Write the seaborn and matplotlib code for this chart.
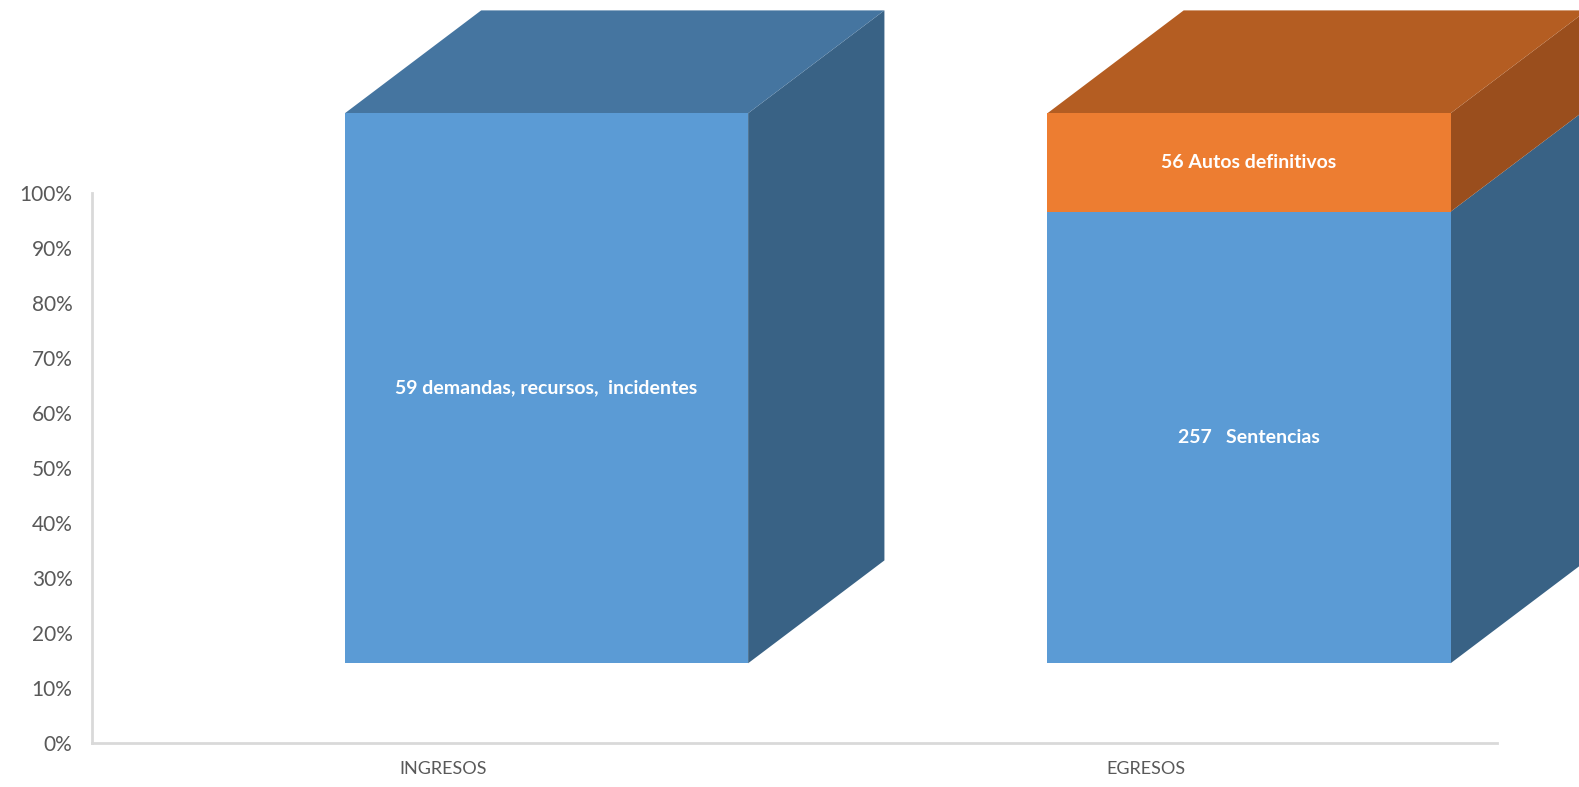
import matplotlib
matplotlib.use("Agg")
import matplotlib.pyplot as plt
import numpy as np
import seaborn as sns
from matplotlib.ticker import PercentFormatter

# datos del grafico (columnas 100% apiladas)
categorias = ["INGRESOS", "EGRESOS"]
serie_azul = [59, 257]
serie_naranja = [0, 56]
etiquetas_azul = ["59 demandas, recursos,  incidentes", "257   Sentencias"]
etiquetas_naranja = ["", "56 Autos definitivos"]

# colores de las caras (frente, arriba, lado)
azul = {"frente": "#5B9BD5", "arriba": "#4575A0", "lado": "#396285"}
naranja = {"frente": "#ED7D31", "arriba": "#B45D22", "lado": "#9A4E1D"}

sns.set_style("white")
plt.rcParams["font.family"] = ["Lato", "DejaVu Sans"]

fig = plt.figure(figsize=(15.79, 7.87), dpi=100)
ax = fig.add_axes([92 / 1579, 44 / 787, 1405 / 1579, 550 / 787])

# parametros de la perspectiva 3D (en unidades de datos)
desplaz_x = 0.147   # el frente esta corrido a la derecha de la categoria
base = 0.145        # el frente empieza por encima del 0%
ancho = 0.574
prof_x = 0.194
prof_y = 0.187


def caja(x0, y0, y1, col, tapa):
    x1 = x0 + ancho
    # cara lateral
    ax.fill([x1, x1 + prof_x, x1 + prof_x, x1],
            [y0, y0 + prof_y, y1 + prof_y, y1],
            color=col["lado"], lw=0, clip_on=False, zorder=2)
    # cara superior
    if tapa:
        ax.fill([x0, x1, x1 + prof_x, x0 + prof_x],
                [y1, y1, y1 + prof_y, y1 + prof_y],
                color=col["arriba"], lw=0, clip_on=False, zorder=2)
    # cara frontal
    ax.fill([x0, x1, x1, x0], [y0, y0, y1, y1],
            color=col["frente"], lw=0, clip_on=False, zorder=3)


for i, cat in enumerate(categorias):
    total = serie_azul[i] + serie_naranja[i]
    p_azul = serie_azul[i] / total
    p_naranja = serie_naranja[i] / total
    x0 = i + desplaz_x - ancho / 2
    cx = i + desplaz_x
    caja(x0, base, base + p_azul, azul, tapa=p_naranja == 0)
    ax.text(cx, base + p_azul / 2, etiquetas_azul[i], color="white",
            fontsize=14, fontweight="bold", ha="center", va="center", zorder=5)
    if p_naranja > 0:
        caja(x0, base + p_azul, base + 1, naranja, tapa=True)
        ax.text(cx, base + p_azul + p_naranja / 2, etiquetas_naranja[i], color="white",
                fontsize=14, fontweight="bold", ha="center", va="center", zorder=5)

ax.set_xlim(-0.5, 1.5)
ax.set_ylim(0, 1)
ax.set_xticks(range(len(categorias)))
ax.set_xticklabels(categorias)
ax.set_yticks(np.arange(0, 1.01, 0.1))
ax.yaxis.set_major_formatter(PercentFormatter(1.0, decimals=0))
ax.tick_params(axis="y", length=0, pad=14, labelsize=15, labelcolor="#595959")
ax.tick_params(axis="x", length=0, pad=13, labelsize=13, labelcolor="#595959")

sns.despine(ax=ax)
for s in ["left", "bottom"]:
    ax.spines[s].set_color("#D9D9D9")
    ax.spines[s].set_linewidth(2)
    ax.spines[s].set_zorder(1)

fig.savefig("out.png", dpi=100)
plt.close()
